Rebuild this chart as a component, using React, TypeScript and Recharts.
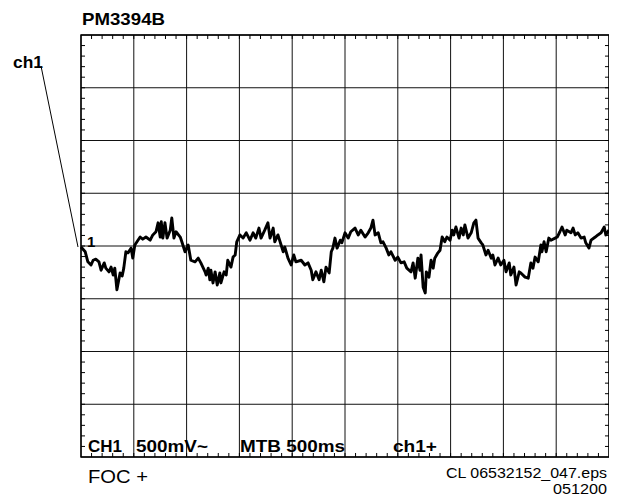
import { LineChart, Line, XAxis, YAxis, CartesianGrid, ReferenceLine, ReferenceArea } from 'recharts'

// scope trace, CH1 500mV/div, MTB 500ms/div (time in ms, level in mV)
const sampleTimesMs = [
  0, 40, 65, 95, 115, 140, 170, 190, 220, 235, 265, 285, 305, 320, 340, 370, 390, 405, 425, 445,
  475, 490, 510, 530, 560, 585, 615, 655, 680, 710, 730, 750, 760, 775, 795, 815, 845, 860, 880, 900,
  940, 955, 985, 1015,
  1040, 1080, 1110, 1135, 1175, 1185, 1205, 1220, 1230, 1250, 1270, 1290, 1315, 1325, 1355, 1375, 1390, 1420, 1440, 1460,
  1475, 1505, 1535, 1565, 1600, 1630, 1655, 1685, 1705, 1740, 1770, 1790, 1820, 1835, 1865, 1895, 1915, 1930, 1960, 1990,
  2015, 2035,
  2085, 2120, 2150, 2180, 2195, 2225, 2255, 2275, 2300, 2320, 2350, 2370, 2385, 2405, 2425, 2455, 2470, 2500, 2530, 2555,
  2595, 2625, 2650, 2690, 2720, 2745, 2765, 2785, 2815, 2840, 2860, 2890, 2915, 2935, 2975, 3000, 3030, 3060, 3085,
  3125, 3145, 3165, 3190, 3210, 3220, 3240, 3260, 3270, 3295, 3315, 3335, 3350, 3380, 3400, 3420, 3445, 3465, 3495, 3515,
  3530, 3550, 3580, 3600, 3620, 3635, 3665, 3695, 3720, 3740, 3760, 3790, 3805, 3835, 3855, 3885, 3900, 3920, 3950, 3975,
  4005, 4025, 4055, 4070, 4100, 4120, 4150,
  4165, 4205, 4235, 4260, 4280, 4300, 4330, 4355, 4365, 4385, 4405, 4430, 4450, 4490, 4510, 4535, 4555, 4585, 4600, 4640,
  4660, 4680, 4705, 4735, 4765, 4780, 4810, 4830, 4870, 4895, 4925, 4955, 4970, 5000,
]

const ch1mV = [
  -10, -55, -150, -180, -135, -125, -150, -230, -160, -210, -245, -200, -275, -210, -415, -255, -285, -210, -55, -65,
  -20, -115, 10, 40, 85, 65, 85, 55, 105, 135, 220, 85, 230, 75, 220, 75, 150, 265, 75, 135,
  85, 40, -55, 10,
  -135, -150, -115, -160, -245, -275, -210, -320, -230, -350, -245, -370, -255, -350, -245, -275, -135, -200, -105, -85,
  40, 105, 75, 125, 55, 125, 75, 170, 75, 150, 220, 75, 170, 40, 105, 10, -55, -10, -115, -180,
  -85, -150,
  -135, -180, -160, -230, -320, -245, -320, -230, -340, -200, -255, -55, -20, 75, -20, 55, 30, 125, 75, 135,
  170, 105, 150, 85, 125, 170, 245, 105, 125, 30, 40, -20, -85, -55, -135, -105, -160, -150, -210,
  -245, -160, -305, -115, -230, -85, -390, -445, -245, -295, -135, -210, -115, -65, -40, 85, 40, 85, 55, 150,
  105, 180, 75, 170, 105, 200, 75, 125, 220, 245, 75, 30, 10, -85, -40, -115, -85, -180, -115, -180,
  -135, -245, -160, -275, -200, -370, -245,
  -255, -295, -305, -160, -210, -105, -150, 10, -55, 40, -55, 75, 55, 75, 85, 135, 180, 105, 150, 125,
  170, 105, 125, 75, 85, 30, -20, 55, 85, 105, 125, 180, 105, 150,
]

const majorTimeTicks = [0, 500, 1000, 1500, 2000, 2500, 3000, 3500, 4000, 4500, 5000]
const majorLevelTicks = [-2000, -1500, -1000, -500, 0, 500, 1000, 1500, 2000]
// 5 minor marks per division on the frame
const minorTimeTicks = Array.from({ length: 49 }, (_, i) => (i + 1) * 100)
const minorLevelTicks = Array.from({ length: 39 }, (_, i) => -1900 + i * 100)

const data = sampleTimesMs.map((t, i) => ({ t, v: ch1mV[i] }))

const FONT = '"Liberation Sans", Arial, Helvetica, sans-serif'
const TICK_MV = 38 // ~4px
const TICK_MS = 38 // ~4px

export default function App() {
  return (
    <div style={{ position: 'relative', width: 609, height: 491 }}>
      <LineChart width={609} height={491} data={data} margin={{ top: 27, right: 8, bottom: 42, left: 73 }}>
        <XAxis dataKey="t" type="number" domain={[0, 5000]} ticks={majorTimeTicks} hide />
        <YAxis type="number" domain={[-2000, 2000]} ticks={majorLevelTicks} hide />
        <CartesianGrid stroke="#111" strokeWidth={1} />
        <ReferenceArea x1={0} x2={5000} y1={-2000} y2={2000} fill="none" stroke="#000" strokeWidth={1.4} fillOpacity={0} ifOverflow="visible" />
        {minorTimeTicks.map((t) => (
          <ReferenceLine key={`b${t}`} segment={[{ x: t, y: -2000 }, { x: t, y: -2000 + TICK_MV }]} stroke="#000" strokeWidth={1} ifOverflow="visible" />
        ))}
        {minorTimeTicks.map((t) => (
          <ReferenceLine key={`t${t}`} segment={[{ x: t, y: 2000 }, { x: t, y: 2000 - TICK_MV }]} stroke="#000" strokeWidth={1} ifOverflow="visible" />
        ))}
        {minorLevelTicks.map((v) => (
          <ReferenceLine key={`l${v}`} segment={[{ x: 0, y: v }, { x: TICK_MS, y: v }]} stroke="#000" strokeWidth={1} ifOverflow="visible" />
        ))}
        {minorLevelTicks.map((v) => (
          <ReferenceLine key={`r${v}`} segment={[{ x: 5000, y: v }, { x: 5000 - TICK_MS, y: v }]} stroke="#000" strokeWidth={1} ifOverflow="visible" />
        ))}
        <Line dataKey="v" stroke="#000" strokeWidth={2.9} strokeLinejoin="round" dot={false} isAnimationActive={false} />
      </LineChart>
      <svg width={617} height={499} style={{ position: 'absolute', left: -8, top: -8, pointerEvents: 'none' }} fontFamily={FONT}>
        <text x={82} y={25} fontSize={17} fontWeight="bold" textLength={83} lengthAdjust="spacingAndGlyphs">PM3394B</text>
        <text x={13} y={68} fontSize={17} fontWeight="bold" textLength={30} lengthAdjust="spacingAndGlyphs">ch1</text>
        <line x1={41} y1={66} x2={78} y2={247} stroke="#000" strokeWidth={1} />
        <text x={87} y={247} fontSize={15} fontWeight="bold">1</text>
        <g fontSize={17} fontWeight="bold">
          <text x={88} y={452} textLength={34} lengthAdjust="spacingAndGlyphs">CH1</text>
          <text x={136} y={452} textLength={72} lengthAdjust="spacingAndGlyphs">500mV~</text>
          <text x={240} y={452} textLength={105} lengthAdjust="spacingAndGlyphs">MTB 500ms</text>
          <text x={393} y={452} textLength={44} lengthAdjust="spacingAndGlyphs">ch1+</text>
        </g>
        <text x={88} y={483} fontSize={17.5} textLength={60} lengthAdjust="spacingAndGlyphs">FOC +</text>
        <text x={607} y={478} fontSize={15} textAnchor="end" textLength={161} lengthAdjust="spacingAndGlyphs">CL 06532152_047.eps</text>
        <text x={607} y={494} fontSize={15} textAnchor="end" textLength={54} lengthAdjust="spacingAndGlyphs">051200</text>
      </svg>
    </div>
  )
}
